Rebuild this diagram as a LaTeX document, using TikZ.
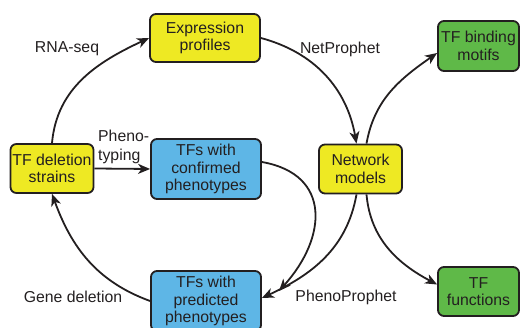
\documentclass[tikz,border=0pt]{standalone}
\usepackage{fontspec}
\setmainfont{Liberation Sans}
\usepackage{tikz}
\usetikzlibrary{shapes,arrows,arrows.meta,positioning}
\definecolor{boxline}{RGB}{35,31,32}
\definecolor{yellowfill}{RGB}{238,233,35}
\definecolor{bluefill}{RGB}{94,182,230}
\definecolor{greenfill}{RGB}{95,185,72}
\tikzstyle{arrow} = [line width=1.8pt, draw=boxline, -{Stealth[length=12pt,width=10pt,inset=3.5pt]}]
\tikzstyle{box} = [rectangle, rounded corners=6pt, draw=boxline, line width=1.8pt, align=center, text=boxline, inner sep=2pt, font=\fontsize{15.8}{17.5}\selectfont]
\tikzstyle{lbl} = [text=boxline, align=center, inner sep=1pt, font=\fontsize{15.8}{18.5}\selectfont]

\begin{document}
\begin{tikzpicture}[x=1pt, y=1pt, node distance=131pt]
    \useasboundingbox (0,0) rectangle (520,-328);

    % boxes
    \node (expr) [box, fill=yellowfill, minimum width=110pt, minimum height=48pt] at (205,-38) {Expression\\profiles};
    \node (conf) [box, fill=bluefill, below of=expr, xshift=1pt, minimum width=110pt, minimum height=60pt] {TFs with\\confirmed\\phenotypes};
    \node (pred) [box, fill=bluefill, below of=conf, yshift=-1pt, minimum width=110pt, minimum height=60pt] {TFs with\\predicted\\phenotypes};
    \node (strains) [box, fill=yellowfill, minimum width=82pt, minimum height=49pt] at (52,-168.5) {TF deletion\\strains};
    \node (net) [box, fill=yellowfill, right of=conf, xshift=23.5pt, minimum width=83pt, minimum height=49pt] {Network\\models};
    \node (motifs) [box, fill=greenfill, minimum width=81pt, minimum height=50pt] at (478.5,-46) {TF binding\\motifs};
    \node (funcs) [box, fill=greenfill, minimum width=81pt, minimum height=49pt] at (478.5,-291.5) {TF\\functions};

    % labels
    \node (rnaseq) [lbl] at (67,-49) {RNA-seq};
    \node (netp) [lbl] at (340,-49) {NetProphet};
    \node (typing) [lbl, align=left, anchor=west] at (97,-147) {Pheno-\\typing};
    \node (genedel) [lbl] at (73,-297) {Gene deletion};
    \node (phenop) [lbl] at (346,-297) {PhenoProphet};

    % arrows
    \coordinate (ctip) at (279,-291);
    \draw [arrow] (strains.north) to [out=85, in=205] (expr.west);
    \draw [arrow] (expr.east) to [out=-15, in=100] ([xshift=-4pt]net.north);
    \draw [arrow] ([xshift=6pt]net.north) to [out=80, in=215] ([yshift=-7pt]motifs.west);
    \draw [arrow] (strains.east) -- (conf.west);
    \draw [arrow] ([yshift=7pt]conf.east) to [out=-10, in=48, looseness=1.4] (ctip);
    \draw [arrow] ([xshift=-4pt]net.south) to [out=-100, in=25] ([yshift=3pt]pred.east);
    \draw [arrow] ([xshift=6pt]net.south) to [out=-85, in=152] ([yshift=7pt]funcs.west);
    \draw [arrow] (pred.west) to [out=160, in=-70] (strains.south);

\end{tikzpicture}
\end{document}
